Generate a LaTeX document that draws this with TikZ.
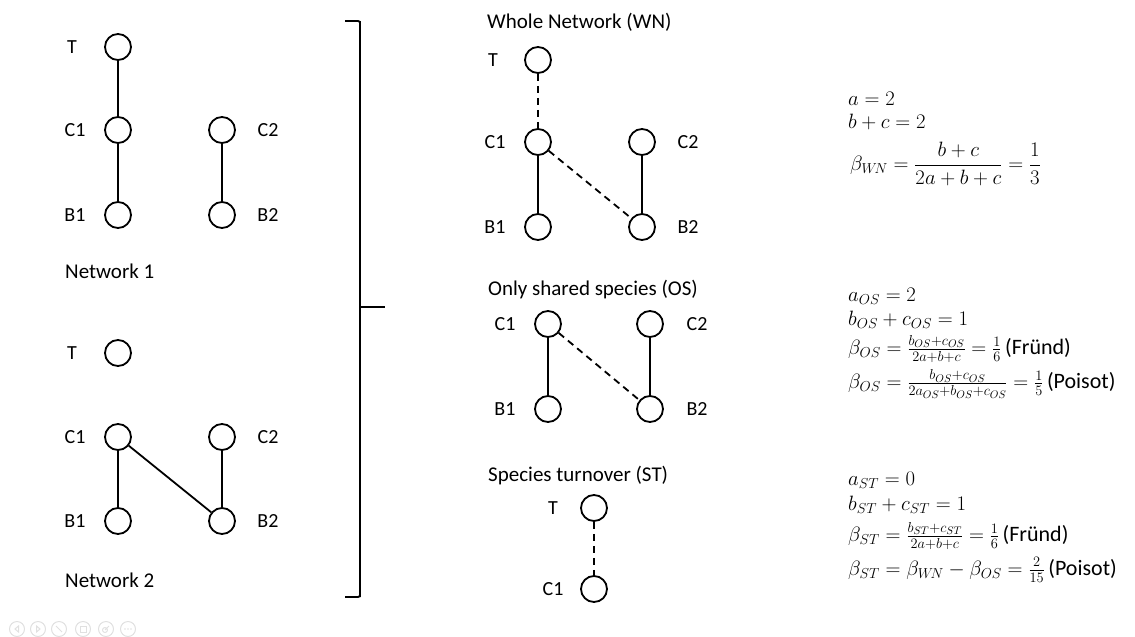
\documentclass[tikz,border=0pt]{standalone}
\usepackage{amsmath}
\usepackage{fontspec}
\setmainfont{Carlito}
\begin{document}
\begin{tikzpicture}[x=1pt,y=-1pt,
  sp/.style={circle,draw,line width=1.8pt,minimum size=26pt,inner sep=0pt},
  lbl/.style={font=\fontsize{20}{24}\selectfont,inner sep=0pt},
  ttl/.style={font=\fontsize{21}{25}\selectfont,inner sep=0pt,anchor=west},
  eq/.style={font=\fontsize{22}{26}\selectfont,inner sep=0pt,anchor=west},
  lk/.style={line width=1.8pt},
  dlk/.style={line width=1.8pt,dash pattern=on 7pt off 5pt},
  ico/.style={circle,draw=black!12,line width=1pt,minimum size=15pt,inner sep=0pt},
  icl/.style={draw=black!12,line width=1pt}]
\useasboundingbox (0,0) rectangle (1135,637);
% Network 1
\node[sp] (aT) at (118,47) {};
\node[sp] (aC1) at (118,130) {};
\node[sp] (aB1) at (118,215) {};
\node[sp] (aC2) at (222,130) {};
\node[sp] (aB2) at (222,215) {};
\node[lbl] (laT) at (72,47) {T};
\node[lbl] (laC1) at (75,130) {C1};
\node[lbl] (laB1) at (75,215) {B1};
\node[lbl] (laC2) at (268,130) {C2};
\node[lbl] (laB2) at (268,215) {B2};
\node[ttl] (n1) at (65,271) {Network 1};
\draw[lk] (aT) -- (aC1); \draw[lk] (aC1) -- (aB1); \draw[lk] (aC2) -- (aB2);
% Network 2
\node[sp] (bT) at (118,353) {};
\node[sp] (bC1) at (118,437) {};
\node[sp] (bB1) at (118,521) {};
\node[sp] (bC2) at (222,437) {};
\node[sp] (bB2) at (222,521) {};
\node[lbl] (lbT) at (72,353) {T};
\node[lbl] (lbC1) at (75,437) {C1};
\node[lbl] (lbB1) at (75,521) {B1};
\node[lbl] (lbC2) at (268,437) {C2};
\node[lbl] (lbB2) at (268,521) {B2};
\node[ttl] (n2) at (65,580) {Network 2};
\draw[lk] (bC1) -- (bB1); \draw[lk] (bC2) -- (bB2); \draw[lk] (bC1) -- (bB2);
% bracket
\coordinate (k1) at (345,21); \coordinate (k2) at (360,23);
\coordinate (k3) at (360,595); \coordinate (k4) at (345,597);
\coordinate (m1) at (360,307); \coordinate (m2) at (385,307);
\draw[line width=1.8pt,rounded corners=2pt] (k1) -- (360,21) -- (k2) -- (k3) -- (360,597) -- (k4);
\draw[line width=1.8pt] (m1) -- (m2);
% WN
\node[ttl] (tWN) at (487,22) {Whole Network (WN)};
\node[sp] (wT) at (538,60) {};
\node[sp] (wC1) at (538,142) {};
\node[sp] (wB1) at (538,227) {};
\node[sp] (wC2) at (642,142) {};
\node[sp] (wB2) at (642,227) {};
\node[lbl] (lwT) at (493,60) {T};
\node[lbl] (lwC1) at (495,142) {C1};
\node[lbl] (lwB1) at (495,227) {B1};
\node[lbl] (lwC2) at (688,142) {C2};
\node[lbl] (lwB2) at (688,227) {B2};
\draw[dlk] (wT) -- (wC1); \draw[lk] (wC1) -- (wB1); \draw[dlk] (wC1) -- (wB2); \draw[lk] (wC2) -- (wB2);
% OS
\node[ttl] (tOS) at (488,290) {Only shared species (OS)};
\node[sp] (oC1) at (548,324) {};
\node[sp] (oB1) at (548,409) {};
\node[sp] (oC2) at (650,324) {};
\node[sp] (oB2) at (650,409) {};
\node[lbl] (loC1) at (505,324) {C1};
\node[lbl] (loB1) at (505,409) {B1};
\node[lbl] (loC2) at (697,324) {C2};
\node[lbl] (loB2) at (697,409) {B2};
\draw[lk] (oC1) -- (oB1); \draw[dlk] (oC1) -- (oB2); \draw[lk] (oC2) -- (oB2);
% ST
\node[ttl] (tST) at (488,476) {Species turnover (ST)};
\node[sp] (sT) at (594,508) {};
\node[sp] (sC1) at (594,589) {};
\node[lbl] (lsT) at (553,508) {T};
\node[lbl] (lsC1) at (553,589) {C1};
\draw[dlk] (sT) -- (sC1);
% equations WN
\node[eq] (e1) at (848,99) {$a=2$};
\node[eq] (e2) at (848,122) {$b+c=2$};
\node[eq] (e3) at (850,164) {$\beta_{W\!N}=\dfrac{b+c}{2a+b+c}=\dfrac{1}{3}$};
% OS
\node[eq] (f1) at (848,296) {$a_{OS}=2$};
\node[eq] (f2) at (848,320) {$b_{OS}+c_{OS}=1$};
\node[eq] (f3) at (848,349) {$\beta_{OS}=\frac{b_{OS}+c_{OS}}{2a+b+c}=\frac{1}{6}\,$(Fründ)};
\node[eq] (f4) at (848,384) {$\beta_{OS}=\frac{b_{OS}+c_{OS}}{2a_{OS}+b_{OS}+c_{OS}}=\frac{1}{5}\,$(Poisot)};
% ST
\node[eq] (g1) at (848,480) {$a_{ST}=0$};
\node[eq] (g2) at (848,505) {$b_{ST}+c_{ST}=1$};
\node[eq] (g3) at (848,536) {$\beta_{ST}=\frac{b_{ST}+c_{ST}}{2a+b+c}=\frac{1}{6}\,$(Fründ)};
\node[eq] (g4) at (848,570) {$\beta_{ST}=\beta_{W\!N}-\beta_{OS}=\frac{2}{15}\,$(Poisot)};
% faint toolbar icons
\foreach \i/\x in {1/17,2/38,3/59,4/83,5/106,6/128} {\node[ico] (ic\i) at (\x,629) {};}
\draw[icl] ([xshift=1.5pt,yshift=-3pt]ic1.center) -- ([xshift=-2pt]ic1.center) -- ([xshift=1.5pt,yshift=3pt]ic1.center) -- cycle;
\draw[icl] ([xshift=-1.5pt,yshift=-3pt]ic2.center) -- ([xshift=2pt]ic2.center) -- ([xshift=-1.5pt,yshift=3pt]ic2.center) -- cycle;
\draw[icl] ([xshift=-3pt,yshift=3pt]ic3.center) -- ([xshift=3pt,yshift=-3pt]ic3.center);
\draw[icl] ([xshift=-3pt,yshift=-3pt]ic4.center) rectangle ([xshift=3pt,yshift=3pt]ic4.center);
\draw[icl] ([xshift=-1pt,yshift=-1pt]ic5.center) circle (2.5pt) -- ([xshift=3pt,yshift=3pt]ic5.center);
\foreach \d in {-3,0,3} {\fill[black!12] ([xshift=\d pt]ic6.center) circle (0.8pt);}
\end{tikzpicture}
\end{document}
